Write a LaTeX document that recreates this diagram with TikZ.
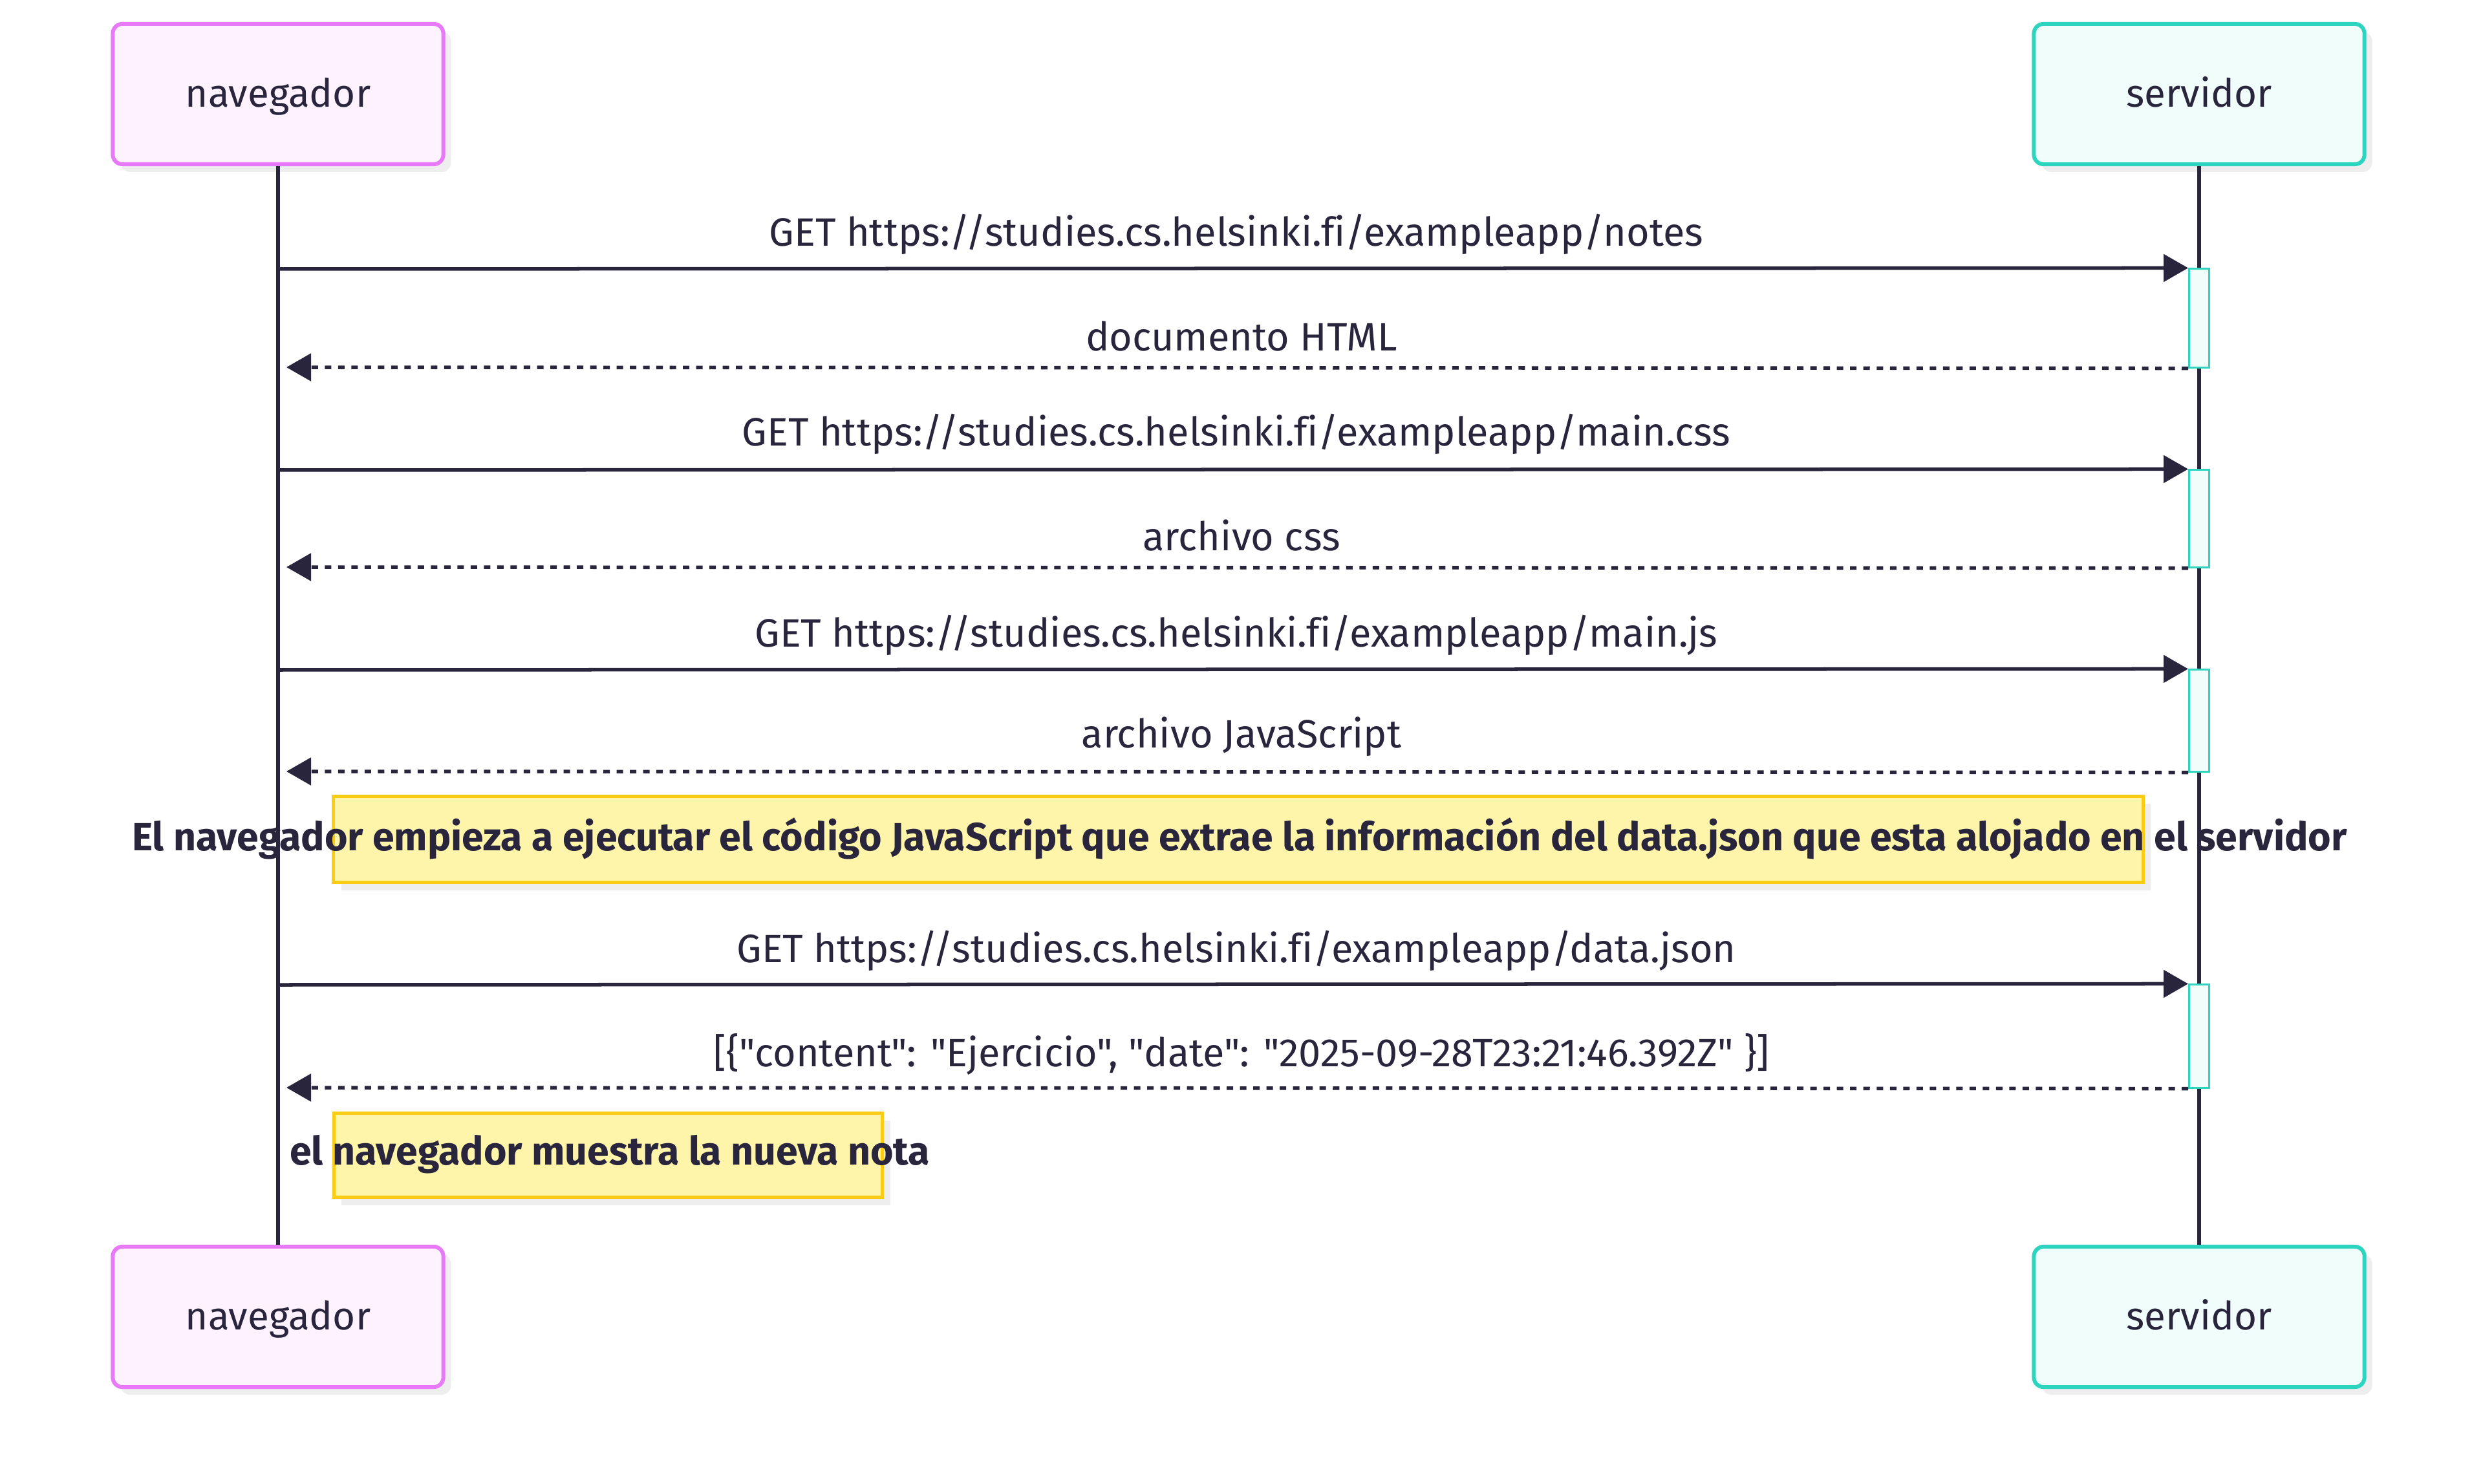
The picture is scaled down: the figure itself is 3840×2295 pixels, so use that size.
\documentclass[tikz,border=0pt]{standalone}
\usepackage{fontspec}
\setmainfont{Fira Sans}[Ligatures={TeXOff,NoCommon}]
\usetikzlibrary{arrows.meta,shadows}
\definecolor{ink}{HTML}{28253C}
\definecolor{pinkS}{HTML}{E879F9}
\definecolor{pinkF}{HTML}{FDF2FE}
\definecolor{tealS}{HTML}{2DD4BF}
\definecolor{tealF}{HTML}{F0FDFA}
\definecolor{noteF}{HTML}{FEF4AA}
\definecolor{noteS}{HTML}{FACC15}
\definecolor{shadowc}{HTML}{EEEEEE}
\tikzset{
  shad/.style={drop shadow={shadow xshift=0.12cm, shadow yshift=-0.12cm, fill=shadowc, opacity=1}},
  actorbox/.style={rounded corners=0.15cm, line width=0.06cm, minimum width=5.11cm, minimum height=2.17cm, inner sep=0pt, text height=1.32em, text depth=0.2em, font=\fontsize{17.1}{20}\selectfont, text=ink, shad},
  navbox/.style={actorbox, draw=pinkS, fill=pinkF},
  srvbox/.style={actorbox, draw=tealS, fill=tealF},
  lifeline/.style={draw=ink, line width=0.06cm},
  actbox/.style={draw=tealS, fill=tealF, line width=0.03cm, minimum width=0.31cm, inner sep=0pt},
  msg/.style={draw=ink, line width=0.055cm, -{Triangle[length=0.38cm, width=0.42cm]}},
  ret/.style={msg, dash pattern=on 0.1cm off 0.105cm},
  msglabel/.style={font=\fontsize{17.4}{20}\selectfont, text=ink, inner sep=0pt},
  notebox/.style={draw=noteS, fill=noteF, line width=0.05cm, inner sep=0pt, shad},
  notetext/.style={font=\bfseries\fontsize{17.3}{20}\selectfont, text=ink, inner sep=0pt},
}
\begin{document}
\begin{tikzpicture}[x=0.01cm, y=-0.01cm]
\useasboundingbox (0,0) rectangle (3840,2295);
% actors
\node[navbox] (navTop) at (430,145.5) {navegador};
\node[srvbox] (srvTop) at (3401,145.5) {servidor};
\node[navbox] (navBot) at (430,2036.5) {navegador};
\node[srvbox] (srvBot) at (3401,2036.5) {servidor};

% lifelines
\draw[lifeline] (navTop.south) -- (navBot.north);
\draw[lifeline] (srvTop.south) -- (srvBot.north);

% activations
\node[actbox, minimum height=1.52cm] (act1) at (3401,492) {};
\node[actbox, minimum height=1.50cm] (act2) at (3401,802) {};
\node[actbox, minimum height=1.57cm] (act3) at (3401,1114.5) {};
\node[actbox, minimum height=1.59cm] (act4) at (3401,1602.5) {};

% message coordinates on browser lifeline
\coordinate (s1) at (430,416);
\coordinate (r1) at (443,568);
\coordinate (s2) at (430,727);
\coordinate (r2) at (443,877);
\coordinate (s3) at (430,1036);
\coordinate (r3) at (443,1193);
\coordinate (s4) at (430,1523);
\coordinate (r4) at (443,1682);

\draw[msg] (s1) -- (act1.north west);
\draw[ret] (act1.south west) -- (r1);
\draw[msg] (s2) -- (act2.north west);
\draw[ret] (act2.south west) -- (r2);
\draw[msg] (s3) -- (act3.north west);
\draw[ret] (act3.south west) -- (r3);
\draw[msg] (s4) -- (act4.north west);
\draw[ret] (act4.south west) -- (r4);

\node[msglabel] (l1) at (1912,362) {GET https://studies.cs.helsinki.fi/exampleapp/notes};
\node[msglabel] (l2) at (1920,520) {documento HTML};
\node[msglabel] (l3) at (1912,671) {GET https://studies.cs.helsinki.fi/exampleapp/main.css};
\node[msglabel] (l4) at (1920,828) {archivo css};
\node[msglabel] (l5) at (1912,982) {GET https://studies.cs.helsinki.fi/exampleapp/main.js};
\node[msglabel] (l6) at (1920,1139) {archivo JavaScript};
\node[msglabel] (l7) at (1912,1470) {GET https://studies.cs.helsinki.fi/exampleapp/data.json};
\node[msglabel] (l8) at (1920,1630) {[\{"content": "Ejercicio", "date": "2025-09-28T23:21:46.392Z" \}]};

% notes
\node[notebox, minimum width=27.97cm, minimum height=1.33cm] (note1) at (1915,1298) {};
\node[notetext] (note1t) at (1917,1297) {El navegador empieza a ejecutar el código JavaScript que extrae la información del data.json que esta alojado en el servidor};
\node[notebox, minimum width=8.48cm, minimum height=1.30cm] (note2) at (940.5,1786.5) {};
\node[notetext] (note2t) at (943,1785) {el navegador muestra la nueva nota};
\end{tikzpicture}
\end{document}
